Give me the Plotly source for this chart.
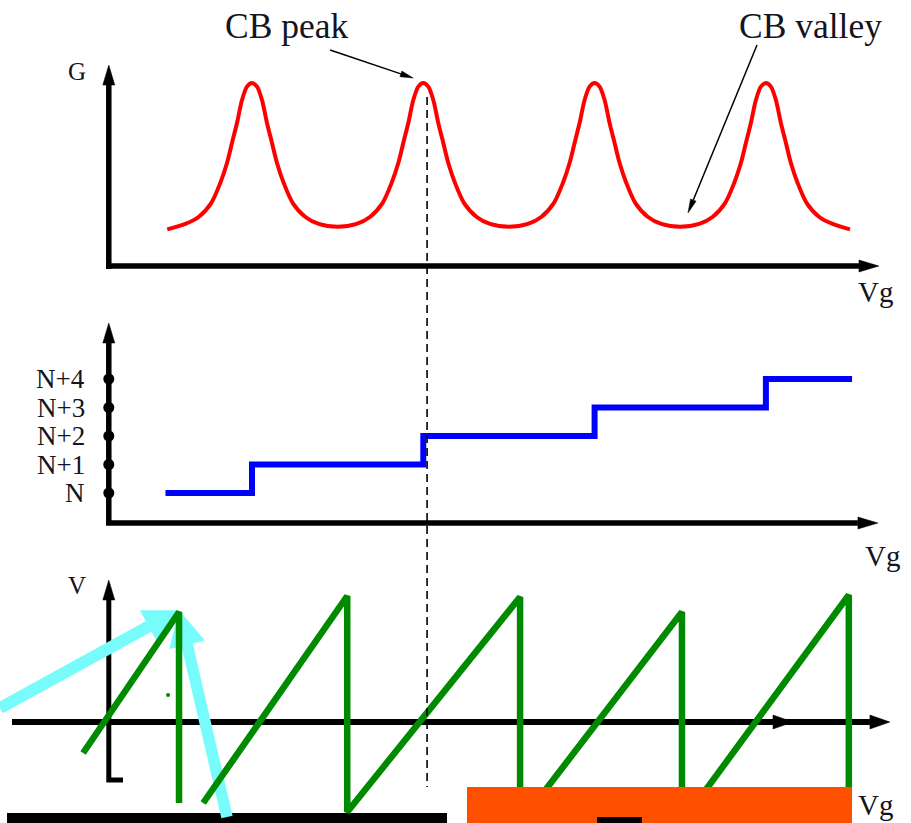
import math
import plotly.graph_objects as go

# ---------------- values ----------------
# Gate voltage Vg is expressed in units of the Coulomb-blockade period.
PEAK_VG = [1.0, 2.0, 3.0, 4.0]                     # CB peak positions
# one-sided shape of a conductance peak: offset from peak centre -> G
PEAK_DVG = [0.0, 0.0292, 0.0584, 0.0876, 0.1168, 0.1459, 0.1851, 0.2382, 0.3117, 0.3894, 0.5]
PEAK_G = [1.0, 0.980, 0.907, 0.781, 0.672, 0.563, 0.454, 0.344, 0.268, 0.230, 0.215]
G_EDGE_VG = [0.505, 4.491]                         # start / end of the red curve
G_EDGE = [0.200, 0.200]

# number of electrons on the dot (staircase)
STEP_VG = [0.495, 1.0, 2.0, 3.0, 4.0, 4.503]
STEP_N = [0, 1, 2, 3, 4, 4]
N_TICKS = [0, 1, 2, 3, 4]
N_LABELS = ["N", "N+1", "N+2", "N+3", "N+4"]

# dot potential sawtooth (None = break in the line)
SAW_VG = [0.014, 0.574, 0.574, None,
          0.715, 1.556, 1.556, 2.565, 2.565, 2.623, 3.510, 3.510, 3.563, 4.484, 4.484]
SAW_V = [-0.31, 1.10, -0.81, None,
         -0.81, 1.26, -0.90, 1.25, -0.88, -0.88, 1.10, -0.88, -0.88, 1.27, -0.88]

DASH_VG = 2.022          # dashed guide through the 2nd CB peak

# ---------------- geometry / styles ----------------
W, H = 911, 823
X_PX0, X_SCALE = 80.7, 171.3          # pixel of Vg=0, pixels per Vg unit
# yaxis: (domain top px, domain bottom px, px of value 0, px per unit)
PANELS = {
    "y": (0, 300, 266, 183.0),
    "y2": (300, 560, 493, 28.5),
    "y3": (560, 823, 722, 100.0),
}
FONT = "Liberation Serif"
TXT = "#141420"
BLACK = "#000000"
RED = "#ff0000"
BLUE = "#0000ff"
GREEN = "#008a00"
CYAN = "#78fbfb"
ORANGE = "#ff5000"
AX_W = 5.5

fig = go.Figure()


def add_arrow(xs, ys, yref, color, width, head_len, head_w, head_only=False):
    s = PANELS[yref][3]
    tx, ty = xs[-1], ys[-1]
    dx = (tx - xs[-2]) * X_SCALE
    dy = (ty - ys[-2]) * s
    d = math.hypot(dx, dy)
    ux, uy = dx / d, dy / d
    bx = tx - head_len * ux / X_SCALE
    by = ty - head_len * uy / s
    hx = head_w / 2 * (-uy) / X_SCALE
    hy = head_w / 2 * ux / s
    if not head_only:
        fig.add_trace(go.Scatter(x=list(xs[:-1]) + [bx], y=list(ys[:-1]) + [by],
                                 mode="lines", line=dict(color=color, width=width),
                                 yaxis=yref, hoverinfo="skip"))
    fig.add_trace(go.Scatter(x=[tx, bx + hx, bx - hx, tx], y=[ty, by + hy, by - hy, ty],
                             mode="lines", fill="toself", fillcolor=color,
                             line=dict(color=color, width=0.5),
                             yaxis=yref, hoverinfo="skip"))


AX_VG = 0.164
# ---- panel 1 axes (G vs Vg)
add_arrow([AX_VG, AX_VG], [-0.016, 1.098], "y", BLACK, AX_W, 20, 12)
add_arrow([0.148, 4.660], [0.0, 0.0], "y", BLACK, AX_W, 20, 12)
# ---- panel 2 axes (N vs Vg)
add_arrow([AX_VG, AX_VG], [-1.12, 5.965], "y2", BLACK, AX_W, 20, 12)
add_arrow([0.148, 4.654], [-1.053, -1.053], "y2", BLACK, AX_W, 20, 12)
# ---- panel 3 axes (V vs Vg)
add_arrow([0.247, AX_VG, AX_VG], [-0.58, -0.58, 1.42], "y3", BLACK, 5, 20, 12)
add_arrow([-0.401, 4.724], [0.0, 0.0], "y3", BLACK, 6, 20, 14)
add_arrow([4.0, 4.158], [0.0, 0.0], "y3", BLACK, 6, 20, 14, head_only=True)

# ---- red conductance curve
g_vg, g_val = [], []
for c in PEAK_VG:
    for dv, g in zip(reversed(PEAK_DVG), reversed(PEAK_G)):
        x = c - dv
        if g_vg and abs(g_vg[-1] - x) < 1e-9:
            continue
        g_vg.append(x)
        g_val.append(g)
    for dv, g in zip(PEAK_DVG[1:], PEAK_G[1:]):
        g_vg.append(c + dv)
        g_val.append(g)
g_vg[0], g_val[0] = G_EDGE_VG[0], G_EDGE[0]
g_vg[-1], g_val[-1] = G_EDGE_VG[1], G_EDGE[1]
fig.add_trace(go.Scatter(x=g_vg, y=g_val, mode="lines",
                         line=dict(color=RED, width=4, shape="spline", smoothing=0.8),
                         yaxis="y", hoverinfo="skip"))

# ---- blue staircase
fig.add_trace(go.Scatter(x=STEP_VG, y=STEP_N, mode="lines",
                         line=dict(color=BLUE, width=6, shape="hv"),
                         yaxis="y2", hoverinfo="skip"))
fig.add_trace(go.Scatter(x=[AX_VG] * len(N_TICKS), y=N_TICKS, mode="markers",
                         marker=dict(color=BLACK, size=11),
                         yaxis="y2", hoverinfo="skip"))

# ---- cyan arrows (overlay)
add_arrow([-0.4711, 0.5675], [0.14, 1.115], "y3", CYAN, 12, 33, 36)
add_arrow([0.8540, 0.5750], [-0.95, 1.115], "y3", CYAN, 11.5, 35, 36)

# ---- green sawtooth
fig.add_trace(go.Scatter(x=SAW_VG, y=SAW_V, mode="lines",
                         line=dict(color=GREEN, width=6.5), connectgaps=False,
                         yaxis="y3", hoverinfo="skip"))
fig.add_trace(go.Scatter(x=[0.510], y=[0.27], mode="markers",
                         marker=dict(color=GREEN, size=4),
                         yaxis="y3", hoverinfo="skip"))

# ---- callout arrows
add_arrow([1.4560, 1.9410], [1.1803, 1.0273], "y", BLACK, 1.5, 13, 6)
add_arrow([3.9481, 3.5452], [1.2077, 0.2896], "y", BLACK, 1.5, 14, 6)

# ---- text
ann = []


def text(s, x, y, yref, size, xanchor="center"):
    ann.append(dict(text=s, x=x, y=y, xref="x", yref=yref, showarrow=False,
                    xanchor=xanchor, yanchor="middle",
                    font=dict(family=FONT, size=size, color=TXT)))


text("CB peak", 1.2026, 1.3126, "y", 35.5)
text("CB valley", 4.2621, 1.3126, "y", 35.5)
text("G", -0.0234, 1.0639, "y", 25)
text("Vg", 4.6369, -0.140, "y", 29)
text("Vg", 4.6807, -2.210, "y2", 29)
text("V", -0.0234, 1.37, "y3", 25)
text("Vg", 4.6416, -0.830, "y3", 29)
for n, lab in zip(N_TICKS, N_LABELS):
    text(lab, 0.035, n, "y2", 27, xanchor="right")


def px_x(p):
    return p / W


def px_y(p):
    return 1 - p / H


shapes = [
    dict(type="line", xref="x", yref="paper", x0=DASH_VG, x1=DASH_VG,
         y0=px_y(97), y1=px_y(787), line=dict(color=BLACK, width=1.6, dash="8px,5px"),
         layer="above"),
    dict(type="rect", xref="paper", yref="paper", x0=px_x(7), x1=px_x(447),
         y0=px_y(823), y1=px_y(813), fillcolor=BLACK, line=dict(width=0), layer="below"),
    dict(type="rect", xref="paper", yref="paper", x0=px_x(467), x1=px_x(852),
         y0=px_y(823), y1=px_y(787), fillcolor=ORANGE, line=dict(width=0), layer="above"),
    dict(type="rect", xref="paper", yref="paper", x0=px_x(597), x1=px_x(642),
         y0=px_y(823), y1=px_y(817), fillcolor=BLACK, line=dict(width=0), layer="above"),
]

layout_axes = {}
for name, (top, bot, zero, s) in PANELS.items():
    key = "yaxis" if name == "y" else "yaxis" + name[1:]
    layout_axes[key] = dict(domain=[1 - bot / H, 1 - top / H],
                            range=[(zero - bot) / s, (zero - top) / s],
                            visible=False, anchor="x", fixedrange=True)

fig.update_layout(
    width=W, height=H,
    margin=dict(l=0, r=0, t=0, b=0),
    paper_bgcolor="white", plot_bgcolor="rgba(0,0,0,0)",
    showlegend=False,
    xaxis=dict(range=[-X_PX0 / X_SCALE, (W - X_PX0) / X_SCALE], domain=[0, 1],
               visible=False, anchor="y3", fixedrange=True),
    annotations=ann, shapes=shapes,
    **layout_axes,
)

fig.write_html("out.html", config={"displayModeBar": False},
               post_script="document.body.style.margin='0';"
                           "document.body.style.overflow='hidden';")
